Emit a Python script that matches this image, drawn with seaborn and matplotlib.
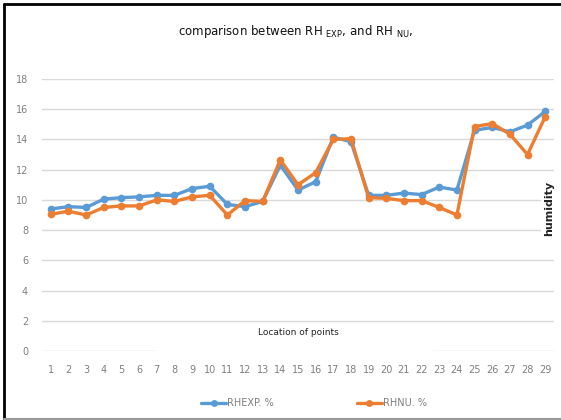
import numpy as np
import pandas as pd
import seaborn as sns
import matplotlib
matplotlib.use("Agg")
import matplotlib.pyplot as plt
from matplotlib.lines import Line2D

points = list(range(1, 30))
rh_exp = [9.4, 9.55, 9.5, 10.05, 10.15, 10.2, 10.3, 10.3, 10.75, 10.9,
          9.7, 9.55, 9.9, 12.3, 10.65, 11.2, 14.15, 13.85, 10.3, 10.3,
          10.45, 10.35, 10.85, 10.65, 14.6, 14.8, 14.5, 14.95, 15.85]
rh_nu = [9.05, 9.25, 9.0, 9.5, 9.6, 9.6, 10.0, 9.9, 10.2, 10.3,
         9.0, 9.95, 9.9, 12.65, 11.0, 11.8, 14.0, 14.05, 10.15, 10.1,
         9.95, 9.95, 9.5, 9.0, 14.85, 15.05, 14.35, 13.0, 15.5]
series_names = ["RHEXP. %", "RHNU. %"]
yticks = [0, 2, 4, 6, 8, 10, 12, 14, 16, 18]

df = pd.DataFrame({
    "point": points * 2,
    "value": rh_exp + rh_nu,
    "series": [series_names[0]] * len(points) + [series_names[1]] * len(points),
})

sns.set_theme(style="white")
plt.rcParams["font.family"] = ["DejaVu Sans"]

fig = plt.figure(figsize=(5.61, 4.2), dpi=100)
ax = fig.add_axes([42 / 561, 1 - 351 / 420, (554 - 42) / 561, (351 - 79) / 420])

palette = {series_names[0]: "#5B9BD5", series_names[1]: "#ED7D31"}
sns.lineplot(data=df, x="point", y="value", hue="series", palette=palette,
             marker="o", markersize=5.5, markeredgewidth=0, linewidth=2.4,
             ax=ax, legend=False)

ax.set_xlim(0.5, 29.5)
ax.set_ylim(0, 18)
ax.set_yticks(yticks)
ax.set_xticks(points)
ax.set_xticklabels([str(p) for p in points])
for y in yticks[1:]:
    ax.axhline(y, color="#D9D9D9", lw=1, zorder=0)
ax.axhline(0, xmin=0, xmax=(155 - 42) / 512, color="#D9D9D9", lw=1, zorder=0)
ax.axhline(0, xmin=(432 - 42) / 512, xmax=1, color="#D9D9D9", lw=1, zorder=0)
for s in ax.spines.values():
    s.set_visible(False)
ax.tick_params(axis="both", length=0, labelsize=7, colors="#7F7F7F")
ax.tick_params(axis="x", pad=10)
ax.tick_params(axis="y", pad=10)
ax.set_xlabel("")
ax.set_ylabel("")

ax.text(15, 1.2, "Location of points", ha="center", va="center", fontsize=6.5, color="#222222")
fig.text(549 / 561, 1 - 208 / 420, "humidity", rotation=90, ha="center", va="center",
         fontsize=8, fontweight="bold", color="#222222",
         bbox=dict(facecolor="white", edgecolor="none", pad=2))

fig.text(296 / 561, 1 - 31 / 420,
         r"comparison between RH $_{\mathrm{EXP}}$, and RH $_{\mathrm{NU}}$,",
         ha="center", va="center", fontsize=8.5, color="#111111")

handles = [Line2D([], [], color=palette[n], marker="o", markersize=5, lw=2.4,
                  markeredgewidth=0) for n in series_names]
fig.legend(handles, series_names, loc="center", bbox_to_anchor=(314 / 561, 1 - 403 / 420),
           ncol=2, frameon=False, fontsize=7, columnspacing=8.5, handlelength=2.6,
           handletextpad=0.1, labelcolor="#7F7F7F")

# figure border
fig.add_artist(Line2D([4 / 561, 4 / 561], [0, 1 - 4 / 420], color="black", lw=2))
fig.add_artist(Line2D([4 / 561, 1], [1 - 4 / 420, 1 - 4 / 420], color="black", lw=2))
fig.add_artist(Line2D([4 / 561, 1], [1 / 420, 1 / 420], color="#999999", lw=1.5))

fig.savefig("out.png", dpi=100)
